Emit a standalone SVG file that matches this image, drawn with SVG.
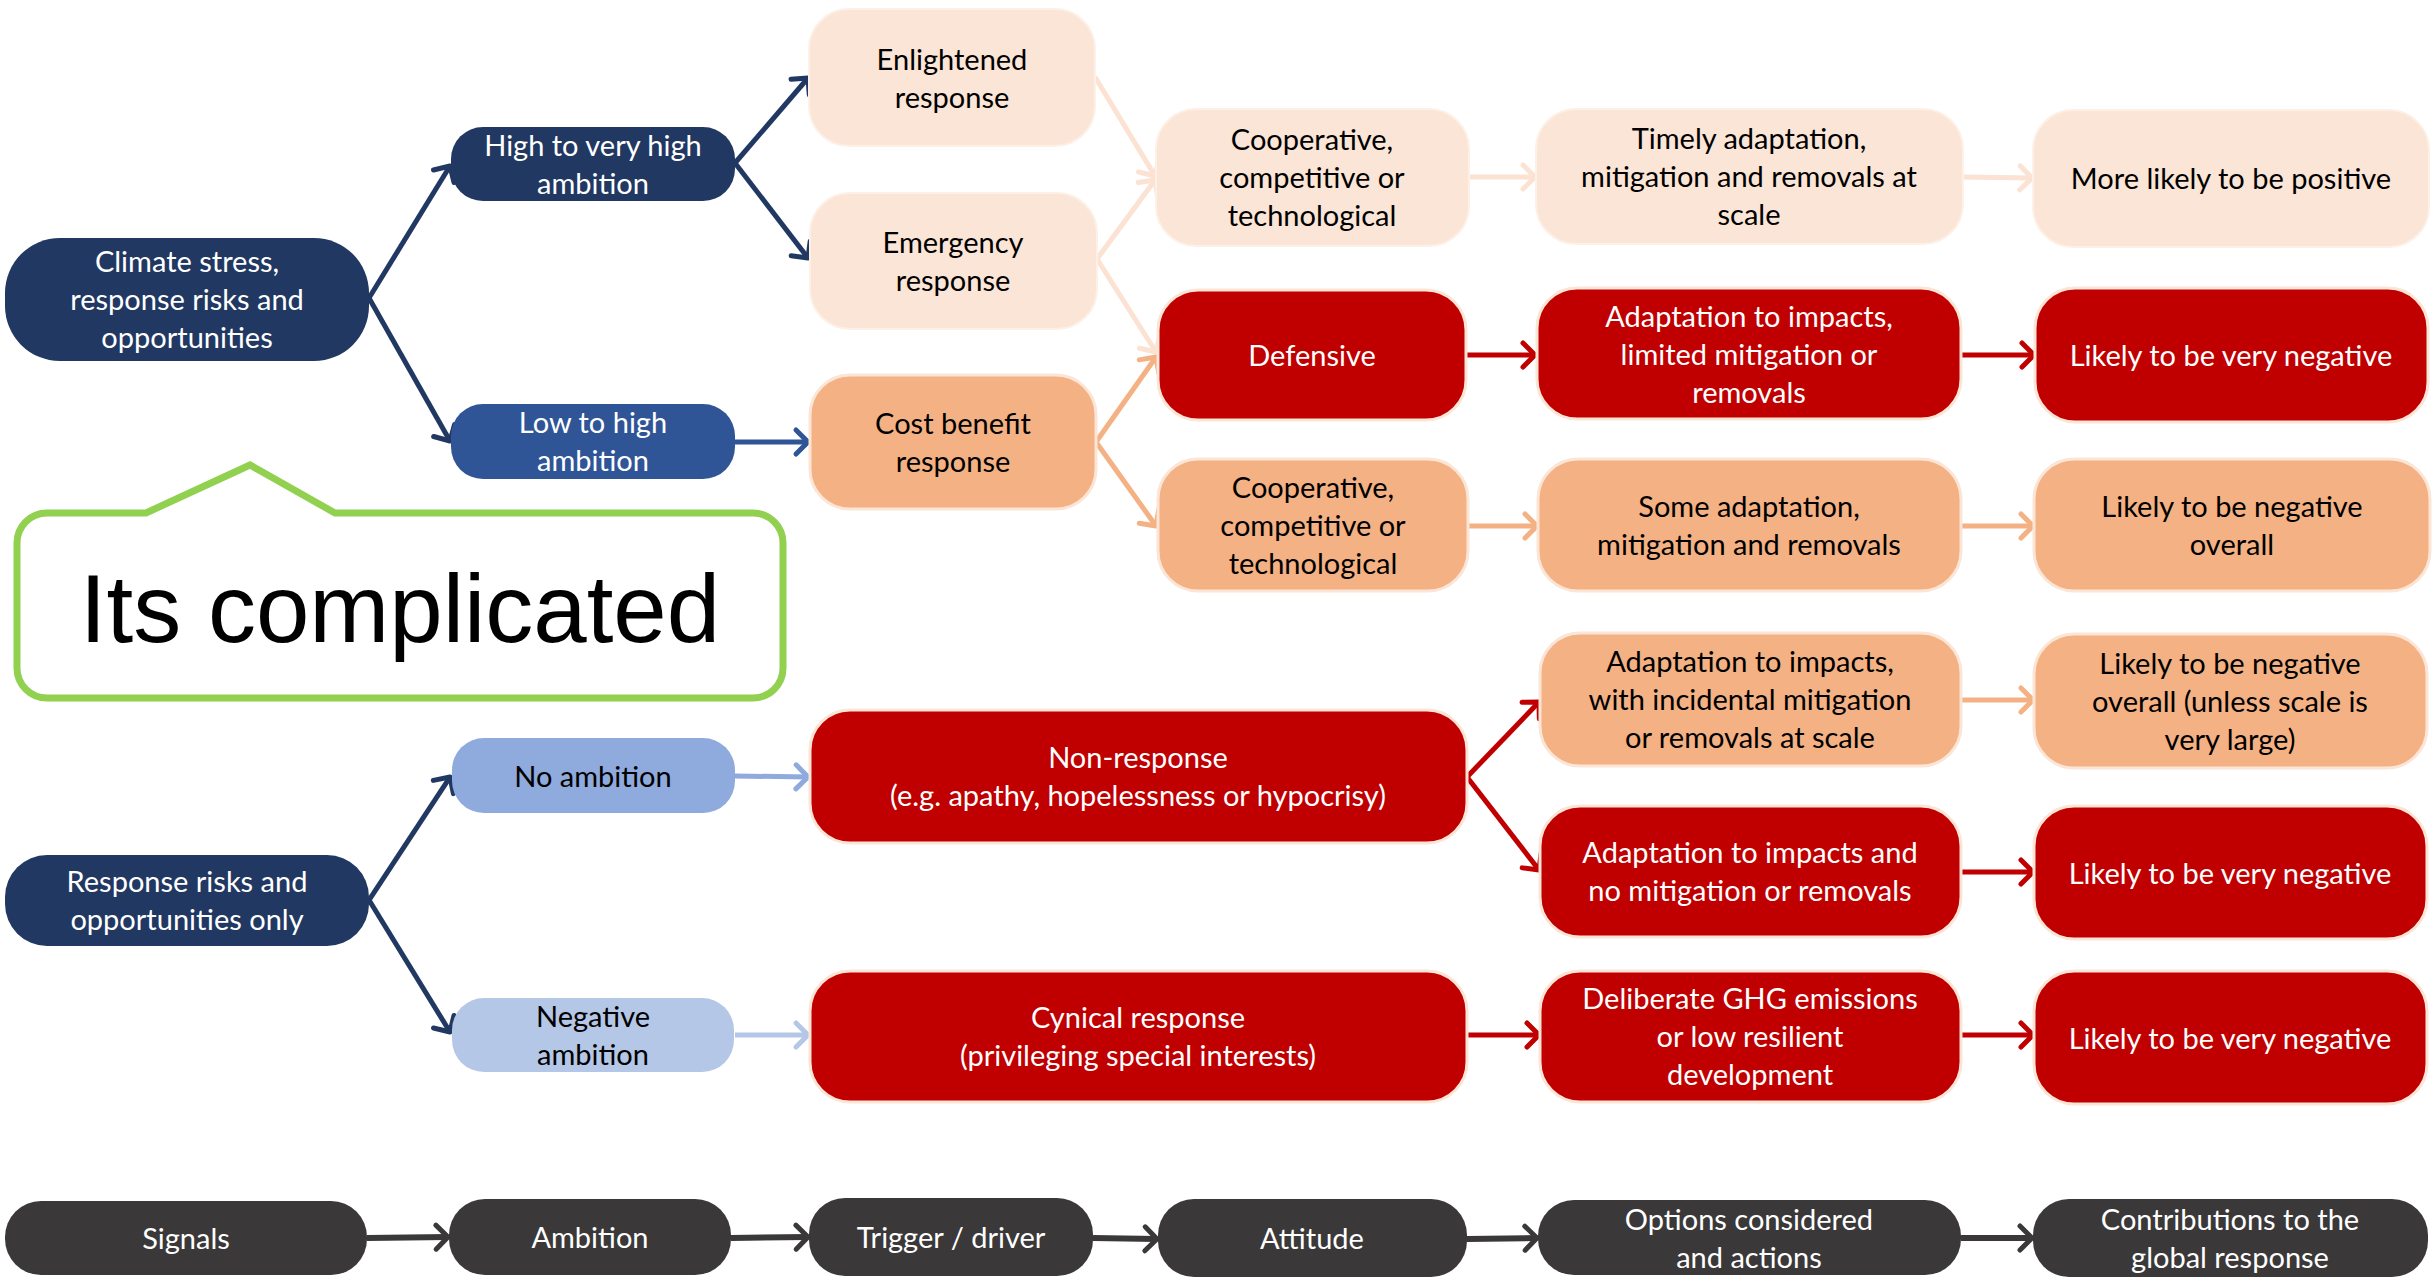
<svg xmlns="http://www.w3.org/2000/svg" width="2433" height="1282" viewBox="0 0 2433 1282">
  <style>
    .box text { font-family: Lato, "Open Sans", sans-serif; font-size: 29px; text-anchor: middle; }
    .navy rect { fill: #213862; }
    .mid rect { fill: #2F5597; }
    .pale rect { fill: #FBE5D6; stroke: #FDF0E7; stroke-width: 2; }
    .orange rect { fill: #F4B183; stroke: #FBE5D6; stroke-width: 3; }
    .red rect { fill: #C00000; stroke: #FBE5D6; stroke-width: 3; }
    .lblue rect { fill: #8FAADC; }
    .xblue rect { fill: #B4C7E7; }
    .dark rect { fill: #3A3838; }
    .navy text, .mid text, .red text, .dark text { fill: #FFFFFF; }
    .pale text, .orange text, .lblue text, .xblue text { fill: #000000; }
    .edge { fill: none; stroke-width: 5; }
    .c-navy { stroke: #213862; }
    .c-mid { stroke: #2F5597; }
    .c-pale { stroke: #FBE2D2; }
    .c-orange { stroke: #F4B183; }
    .c-red { stroke: #C00000; }
    .c-lblue { stroke: #8FAADC; }
    .c-xblue { stroke: #B4C7E7; }
    .c-dark { stroke: #3A3838; stroke-width: 6; }
    .head { fill: none; stroke-width: 5; stroke-linecap: round; stroke-linejoin: round; }
  </style>
  <defs>
    <marker id="m-navy" markerUnits="userSpaceOnUse" markerWidth="30" markerHeight="30" refX="20" refY="15" orient="auto" overflow="visible"><path class="head" d="M8,3 L20,15 L8,27" stroke="#213862"/></marker>
    <marker id="m-mid" markerUnits="userSpaceOnUse" markerWidth="30" markerHeight="30" refX="20" refY="15" orient="auto" overflow="visible"><path class="head" d="M8,3 L20,15 L8,27" stroke="#2F5597"/></marker>
    <marker id="m-pale" markerUnits="userSpaceOnUse" markerWidth="30" markerHeight="30" refX="20" refY="15" orient="auto" overflow="visible"><path class="head" d="M8,3 L20,15 L8,27" stroke="#FBE2D2"/></marker>
    <marker id="m-orange" markerUnits="userSpaceOnUse" markerWidth="30" markerHeight="30" refX="20" refY="15" orient="auto" overflow="visible"><path class="head" d="M8,3 L20,15 L8,27" stroke="#F4B183"/></marker>
    <marker id="m-red" markerUnits="userSpaceOnUse" markerWidth="30" markerHeight="30" refX="20" refY="15" orient="auto" overflow="visible"><path class="head" d="M8,3 L20,15 L8,27" stroke="#C00000"/></marker>
    <marker id="m-lblue" markerUnits="userSpaceOnUse" markerWidth="30" markerHeight="30" refX="20" refY="15" orient="auto" overflow="visible"><path class="head" d="M8,3 L20,15 L8,27" stroke="#8FAADC"/></marker>
    <marker id="m-xblue" markerUnits="userSpaceOnUse" markerWidth="30" markerHeight="30" refX="20" refY="15" orient="auto" overflow="visible"><path class="head" d="M8,3 L20,15 L8,27" stroke="#B4C7E7"/></marker>
    <marker id="m-dark" markerUnits="userSpaceOnUse" markerWidth="30" markerHeight="30" refX="20" refY="15" orient="auto" overflow="visible"><path class="head" d="M8,3 L20,15 L8,27" stroke="#3A3838" stroke-width="6"/></marker>
  </defs>

  <rect width="2433" height="1282" fill="#FFFFFF"/>

  <!-- connectors -->
  <g id="connectors">
    <line class="edge c-navy" x1="369" y1="298" x2="450" y2="166" marker-end="url(#m-navy)"/>
    <line class="edge c-navy" x1="369" y1="298" x2="450" y2="441" marker-end="url(#m-navy)"/>
    <line class="edge c-navy" x1="735" y1="163" x2="808" y2="78" marker-end="url(#m-navy)"/>
    <line class="edge c-navy" x1="735" y1="163" x2="808" y2="258" marker-end="url(#m-navy)"/>
    <line class="edge c-mid" x1="735" y1="442" x2="808" y2="442" marker-end="url(#m-mid)"/>
    <line class="edge c-navy" x1="369" y1="900" x2="450" y2="777" marker-end="url(#m-navy)"/>
    <line class="edge c-navy" x1="369" y1="900" x2="450" y2="1032" marker-end="url(#m-navy)"/>
    <line class="edge c-lblue" x1="735" y1="776" x2="808" y2="777" marker-end="url(#m-lblue)"/>
    <line class="edge c-xblue" x1="735" y1="1035" x2="808" y2="1035" marker-end="url(#m-xblue)"/>

    <line class="edge c-pale" x1="1095" y1="77" x2="1155" y2="176" marker-end="url(#m-pale)"/>
    <line class="edge c-pale" x1="1097" y1="259" x2="1155" y2="180" marker-end="url(#m-pale)"/>
    <line class="edge c-pale" x1="1097" y1="259" x2="1156" y2="352" marker-end="url(#m-pale)"/>
    <line class="edge c-pale" x1="1469" y1="177" x2="1535" y2="177" marker-end="url(#m-pale)"/>
    <line class="edge c-pale" x1="1963" y1="177" x2="2032" y2="178" marker-end="url(#m-pale)"/>

    <line class="edge c-orange" x1="1096" y1="442" x2="1156" y2="357" marker-end="url(#m-orange)"/>
    <line class="edge c-orange" x1="1096" y1="442" x2="1156" y2="526" marker-end="url(#m-orange)"/>
    <line class="edge c-orange" x1="1468" y1="526" x2="1537" y2="526" marker-end="url(#m-orange)"/>
    <line class="edge c-orange" x1="1961" y1="526" x2="2033" y2="526" marker-end="url(#m-orange)"/>
    <line class="edge c-orange" x1="1961" y1="700" x2="2033" y2="700" marker-end="url(#m-orange)"/>

    <line class="edge c-red" x1="1466" y1="355" x2="1535" y2="355" marker-end="url(#m-red)"/>
    <line class="edge c-red" x1="1961" y1="355" x2="2034" y2="355" marker-end="url(#m-red)"/>
    <line class="edge c-red" x1="1467" y1="777" x2="1539" y2="702" marker-end="url(#m-red)"/>
    <line class="edge c-red" x1="1467" y1="777" x2="1539" y2="870" marker-end="url(#m-red)"/>
    <line class="edge c-red" x1="1961" y1="872" x2="2033" y2="872" marker-end="url(#m-red)"/>
    <line class="edge c-red" x1="1467" y1="1035" x2="1539" y2="1035" marker-end="url(#m-red)"/>
    <line class="edge c-red" x1="1961" y1="1035" x2="2033" y2="1035" marker-end="url(#m-red)"/>

    <line class="edge c-dark" x1="367" y1="1238" x2="448" y2="1237" marker-end="url(#m-dark)"/>
    <line class="edge c-dark" x1="731" y1="1238" x2="808" y2="1237" marker-end="url(#m-dark)"/>
    <line class="edge c-dark" x1="1093" y1="1238" x2="1157" y2="1239" marker-end="url(#m-dark)"/>
    <line class="edge c-dark" x1="1467" y1="1239" x2="1537" y2="1238" marker-end="url(#m-dark)"/>
    <line class="edge c-dark" x1="1961" y1="1238" x2="2032" y2="1238" marker-end="url(#m-dark)"/>
  </g>

  <!-- signals and ambition -->
  <g id="climate" class="box navy"><rect x="5" y="238" width="364" height="123" rx="55"/>
    <text x="187" y="272">Climate stress,</text><text x="187" y="310">response risks and</text><text x="187" y="348">opportunities</text></g>
  <g id="high" class="box navy"><rect x="451" y="127" width="284" height="74" rx="32"/>
    <text x="593" y="156">High to very high</text><text x="593" y="194">ambition</text></g>
  <g id="low" class="box mid"><rect x="451" y="404" width="284" height="75" rx="32"/>
    <text x="593" y="433">Low to high</text><text x="593" y="471">ambition</text></g>

  <!-- triggers -->
  <g id="enlightened" class="box pale"><rect x="809" y="9" width="286" height="137" rx="40"/>
    <text x="952" y="70">Enlightened</text><text x="952" y="108">response</text></g>
  <g id="emergency" class="box pale"><rect x="810" y="193" width="287" height="136" rx="40"/>
    <text x="953" y="253">Emergency</text><text x="953" y="291">response</text></g>
  <g id="costbenefit" class="box orange"><rect x="810" y="375" width="286" height="134" rx="40"/>
    <text x="953" y="434">Cost benefit</text><text x="953" y="472">response</text></g>

  <!-- attitudes -->
  <g id="coop-a" class="box pale"><rect x="1156" y="109" width="313" height="137" rx="40"/>
    <text x="1312" y="150">Cooperative,</text><text x="1312" y="188">competitive or</text><text x="1312" y="226">technological</text></g>
  <g id="defensive" class="box red"><rect x="1158" y="290" width="308" height="130" rx="40"/>
    <text x="1312" y="366">Defensive</text></g>
  <g id="coop-b" class="box orange"><rect x="1158" y="459" width="310" height="132" rx="40"/>
    <text x="1313" y="498">Cooperative,</text><text x="1313" y="536">competitive or</text><text x="1313" y="574">technological</text></g>

  <!-- options and actions -->
  <g id="timely" class="box pale"><rect x="1536" y="109" width="427" height="135" rx="40"/>
    <text x="1749" y="149">Timely adaptation,</text><text x="1749" y="187">mitigation and removals at</text><text x="1749" y="225">scale</text></g>
  <g id="adapt-limited" class="box red"><rect x="1537" y="288" width="424" height="131" rx="40"/>
    <text x="1749" y="327">Adaptation to impacts,</text><text x="1749" y="365">limited mitigation or</text><text x="1749" y="403">removals</text></g>
  <g id="some-adapt" class="box orange"><rect x="1538" y="459" width="423" height="132" rx="40"/>
    <text x="1749" y="517">Some adaptation,</text><text x="1749" y="555">mitigation and removals</text></g>

  <!-- contributions -->
  <g id="positive" class="box pale"><rect x="2033" y="110" width="396" height="137" rx="40"/>
    <text x="2231" y="189">More likely to be positive</text></g>
  <g id="very-neg-a" class="box red"><rect x="2035" y="288" width="393" height="134" rx="40"/>
    <text x="2231" y="366">Likely to be very negative</text></g>
  <g id="neg-overall" class="box orange"><rect x="2034" y="459" width="396" height="132" rx="40"/>
    <text x="2232" y="517">Likely to be negative</text><text x="2232" y="555">overall</text></g>

  <!-- callout -->
  <g id="callout">
    <path d="M47,513 L146,513 L250,465 L335,513 L753,513 A30,30 0 0 1 783,543 L783,668 A30,30 0 0 1 753,698 L47,698 A30,30 0 0 1 17,668 L17,543 A30,30 0 0 1 47,513 Z" fill="#FFFFFF" stroke="#92D050" stroke-width="7" stroke-linejoin="miter"/>
    <text x="400" y="642" font-family="'Liberation Sans', Arial, sans-serif" font-size="96" text-anchor="middle" fill="#000000">Its complicated</text>
  </g>

  <!-- lower branch -->
  <g id="response" class="box navy"><rect x="5" y="855" width="364" height="91" rx="42"/>
    <text x="187" y="892">Response risks and</text><text x="187" y="930">opportunities only</text></g>
  <g id="no-ambition" class="box lblue"><rect x="452" y="738" width="283" height="75" rx="32"/>
    <text x="593" y="787">No ambition</text></g>
  <g id="neg-ambition" class="box xblue"><rect x="452" y="998" width="282" height="74" rx="32"/>
    <text x="593" y="1027">Negative</text><text x="593" y="1065">ambition</text></g>
  <g id="non-response" class="box red"><rect x="810" y="710" width="657" height="133" rx="40"/>
    <text x="1138" y="768">Non-response</text><text x="1138" y="806">(e.g. apathy, hopelessness or hypocrisy)</text></g>
  <g id="cynical" class="box red"><rect x="810" y="971" width="657" height="131" rx="40"/>
    <text x="1138" y="1028">Cynical response</text><text x="1138" y="1066">(privileging special interests)</text></g>
  <g id="adapt-incidental" class="box orange"><rect x="1540" y="633" width="421" height="133" rx="40"/>
    <text x="1750" y="672">Adaptation to impacts,</text><text x="1750" y="710">with incidental mitigation</text><text x="1750" y="748">or removals at scale</text></g>
  <g id="adapt-nomit" class="box red"><rect x="1540" y="806" width="421" height="131" rx="40"/>
    <text x="1750" y="863">Adaptation to impacts and</text><text x="1750" y="901">no mitigation or removals</text></g>
  <g id="deliberate" class="box red"><rect x="1540" y="971" width="421" height="131" rx="40"/>
    <text x="1750" y="1009">Deliberate GHG emissions</text><text x="1750" y="1047">or low resilient</text><text x="1750" y="1085">development</text></g>
  <g id="neg-unless" class="box orange"><rect x="2034" y="634" width="393" height="134" rx="40"/>
    <text x="2230" y="674">Likely to be negative</text><text x="2230" y="712">overall (unless scale is</text><text x="2230" y="750">very large)</text></g>
  <g id="very-neg-b" class="box red"><rect x="2034" y="806" width="393" height="133" rx="40"/>
    <text x="2230" y="884">Likely to be very negative</text></g>
  <g id="very-neg-c" class="box red"><rect x="2034" y="971" width="393" height="133" rx="40"/>
    <text x="2230" y="1049">Likely to be very negative</text></g>

  <!-- stage legend -->
  <g id="stage-signals" class="box dark"><rect x="5" y="1201" width="362" height="74" rx="36"/>
    <text x="186" y="1249">Signals</text></g>
  <g id="stage-ambition" class="box dark"><rect x="449" y="1199" width="282" height="76" rx="36"/>
    <text x="590" y="1248">Ambition</text></g>
  <g id="stage-trigger" class="box dark"><rect x="809" y="1198" width="284" height="78" rx="36"/>
    <text x="951" y="1248">Trigger / driver</text></g>
  <g id="stage-attitude" class="box dark"><rect x="1158" y="1199" width="309" height="78" rx="36"/>
    <text x="1312" y="1249">Attitude</text></g>
  <g id="stage-options" class="box dark"><rect x="1538" y="1200" width="423" height="75" rx="36"/>
    <text x="1749" y="1230">Options considered</text><text x="1749" y="1268">and actions</text></g>
  <g id="stage-contrib" class="box dark"><rect x="2033" y="1199" width="395" height="78" rx="36"/>
    <text x="2230" y="1230">Contributions to the</text><text x="2230" y="1268">global response</text></g>
</svg>
